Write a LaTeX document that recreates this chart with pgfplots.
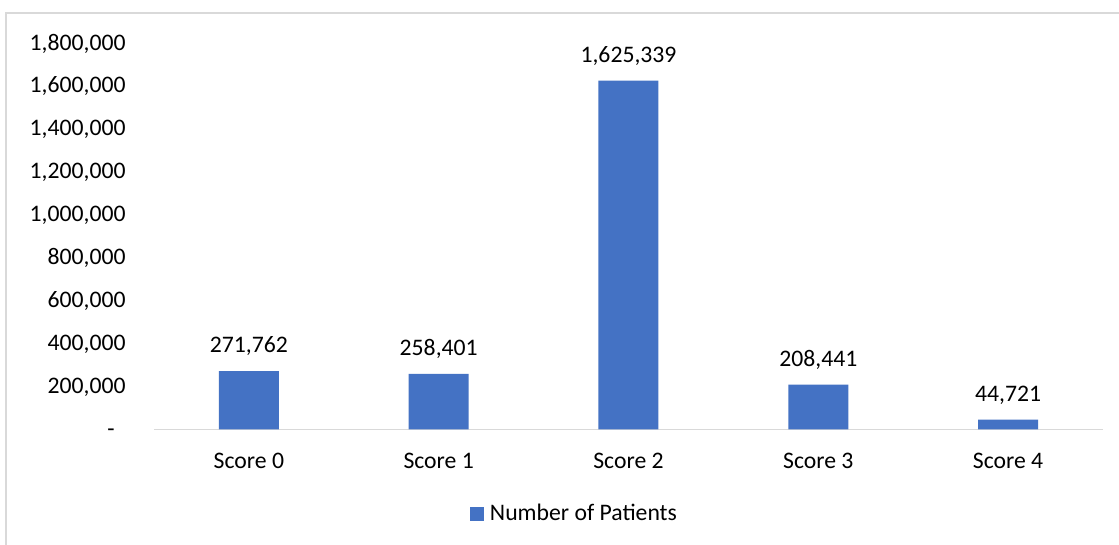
\documentclass[border=0pt]{standalone}
\usepackage{fontspec}
\setmainfont{Carlito}
\usepackage{pgfplots}
\pgfplotsset{compat=1.18}
\definecolor{barblue}{HTML}{4472C4}
\definecolor{framegray}{HTML}{D9D9D9}
\begin{document}
\begin{tikzpicture}[font=\fontsize{11.85bp}{14bp}\selectfont]
\useasboundingbox (0,0) rectangle (559.5bp,272.5bp);
\fill[white] (0,0) rectangle (559.5bp,272.5bp);
\draw[framegray, line width=0.8bp] (3bp,-5bp) -- (3bp,266bp) -- (570bp,266bp);
\begin{axis}[
  at={(77bp,57.85bp)}, anchor=south west,
  scale only axis, width=474.5bp, height=193.05bp,
  xmin=-0.5, xmax=4.5, ymin=0, ymax=1800000,
  axis line style={draw=none},
  major tick length=0pt,
  scaled y ticks=false,
  xtick={0,1,2,3,4},
  xticklabels={Score 0,Score 1,Score 2,Score 3,Score 4},
  xticklabel style={anchor=base, inner sep=0pt, yshift=-19.35bp},
  ytick={0,200000,400000,600000,800000,1000000,1200000,1400000,1600000,1800000},
  yticklabels={{-\kern5.5bp},{200,000},{400,000},{600,000},{800,000},{1,000,000},{1,200,000},{1,400,000},{1,600,000},{1,800,000}},
  yticklabel style={anchor=base east, inner sep=0pt, xshift=-14bp, yshift=-3.4bp},
  /pgf/number format/.cd, fixed, precision=0, 1000 sep={,}, assume math mode=true, /pgfplots/.cd,
  ybar, bar width=30bp,
  nodes near coords,
  every node near coord/.append style={anchor=base, inner sep=0pt, yshift=9.15bp, black},
  legend style={at={(0.442,-0.219)}, anchor=center, draw=none, fill=none, inner sep=0pt,
    nodes={inner sep=0pt}, /tikz/every even column/.append style={column sep=0pt}},
  legend image code/.code={\fill[barblue] (0bp,-3.5bp) rectangle (7bp,3.5bp); \path (10bp,0);},
]
\draw[framegray, line width=0.75bp] (rel axis cs:0,0) -- (rel axis cs:1,0);
\addplot[fill=barblue, draw=none] coordinates {(0,271762) (1,258401) (2,1625339) (3,208441) (4,44721)};
\addlegendentry{Number of Patients}
\end{axis}
\end{tikzpicture}
\end{document}
